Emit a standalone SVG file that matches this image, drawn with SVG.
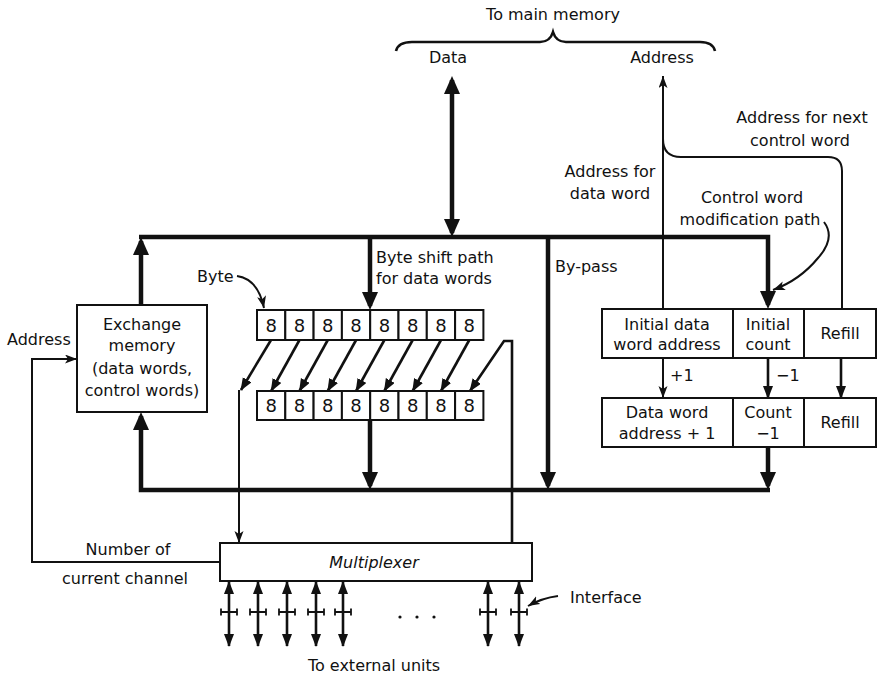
<svg xmlns="http://www.w3.org/2000/svg" width="879" height="677" viewBox="0 0 879 677">
<style>
text{font-family:"DejaVu Sans","Liberation Sans",sans-serif;font-size:16px;fill:#111}
.c{text-anchor:middle}
.d{text-anchor:middle;font-size:18px}
.box{fill:#fff;stroke:#111;stroke-width:2}
.thick{fill:none;stroke:#111;stroke-width:4.5}
.mid{fill:none;stroke:#111;stroke-width:2.6}
.thin{fill:none;stroke:#111;stroke-width:2}
</style>
<defs>
<marker id="big" markerUnits="userSpaceOnUse" markerWidth="20" markerHeight="18" refX="14" refY="8" orient="auto"><path d="M0,0 L18,8 L0,16 z" fill="#111"/></marker>
<marker id="bigs" markerUnits="userSpaceOnUse" markerWidth="20" markerHeight="18" refX="14" refY="8" orient="auto-start-reverse"><path d="M0,0 L18,8 L0,16 z" fill="#111"/></marker>
<marker id="med" markerUnits="userSpaceOnUse" markerWidth="14" markerHeight="12" refX="12" refY="5" orient="auto"><path d="M0,0 L13,5 L0,10 z" fill="#111"/></marker>
<marker id="meds" markerUnits="userSpaceOnUse" markerWidth="14" markerHeight="12" refX="12" refY="5" orient="auto-start-reverse"><path d="M0,0 L13,5 L0,10 z" fill="#111"/></marker>
<marker id="sm" markerUnits="userSpaceOnUse" markerWidth="13" markerHeight="10" refX="12" refY="4.5" orient="auto"><path d="M0,0 L12,4.5 L0,9 L3,4.5 z" fill="#111"/></marker>
</defs>

<g id="connectors">
  <path class="thick" d="M139,237 H768 V305" marker-end="url(#big)"/>
  <path class="thick" d="M141,305 V241" marker-end="url(#big)"/>
  <path class="thick" d="M452,80 V233" marker-start="url(#bigs)" marker-end="url(#bigs)"/>
  <path class="thin" d="M663,309 V76" marker-end="url(#sm)"/>
  <path class="thin" d="M842,309 V171 Q842,157 828,157 H681 Q663,157 663,139"/>
  <path class="thick" d="M370,237 V306" marker-end="url(#big)"/>
  <path class="thick" d="M548,237 V486" marker-end="url(#big)"/>
  <path class="thick" d="M770,490 H141 V416" marker-end="url(#big)"/>
  <path class="thick" d="M370,420 V486" marker-end="url(#big)"/>
  <path class="thick" d="M768,447 V486" marker-end="url(#big)"/>
  <path class="thin" d="M663,358 V398" marker-end="url(#sm)"/>
  <path class="mid" d="M768,358 V398" marker-end="url(#med)"/>
  <path class="mid" d="M841,358 V398" marker-end="url(#med)"/>
  <path class="mid" d="M271,340 L241,390" marker-end="url(#med)"/>
  <path class="mid" d="M299.5,340 L271.2,391" marker-end="url(#med)"/>
  <path class="mid" d="M327.8,340 L299.5,391" marker-end="url(#med)"/>
  <path class="mid" d="M356.1,340 L327.8,391" marker-end="url(#med)"/>
  <path class="mid" d="M384.4,340 L356.1,391" marker-end="url(#med)"/>
  <path class="mid" d="M412.7,340 L384.4,391" marker-end="url(#med)"/>
  <path class="mid" d="M441,340 L412.7,391" marker-end="url(#med)"/>
  <path class="mid" d="M469.3,340 L441,391" marker-end="url(#med)"/>
  <path class="mid" d="M512,543 V341 H504 L470,391" marker-end="url(#med)"/>
  <path class="thin" d="M239,390 V543" marker-end="url(#sm)"/>
  <path class="thin" d="M220,562 H32 V359 H77" marker-end="url(#sm)"/>
  <path class="thin" d="M237,276 Q258,279 264,308" marker-end="url(#sm)"/>
  <path class="thin" d="M824,222 Q836,238 818,258 Q800,280 773,290" marker-end="url(#sm)"/>
  <path class="thin" d="M558,596 Q542,598 528,606" marker-end="url(#sm)"/>
  <path class="mid" d="M396,51 Q398,42 412,42 H540 Q550,42 553,32 Q556,42 566,42 H700 Q713,42 715,51"/>
</g>

<g id="exchange-memory">
  <rect class="box" x="77" y="305" width="130" height="107"/>
  <text class="c" x="142" y="330">Exchange</text>
  <text class="c" x="142" y="351">memory</text>
  <text class="c" x="142" y="374">(data words,</text>
  <text class="c" x="142" y="396">control words)</text>
</g>

<g id="byte-register">
  <rect class="box" x="257" y="310" width="28.3" height="30"/>
  <rect class="box" x="285.3" y="310" width="28.3" height="30"/>
  <rect class="box" x="313.6" y="310" width="28.3" height="30"/>
  <rect class="box" x="341.9" y="310" width="28.3" height="30"/>
  <rect class="box" x="370.2" y="310" width="28.3" height="30"/>
  <rect class="box" x="398.5" y="310" width="28.3" height="30"/>
  <rect class="box" x="426.8" y="310" width="28.3" height="30"/>
  <rect class="box" x="455.1" y="310" width="28.3" height="30"/>
  <text class="d" x="271.2" y="332">8</text><text class="d" x="299.5" y="332">8</text>
  <text class="d" x="327.8" y="332">8</text><text class="d" x="356.1" y="332">8</text>
  <text class="d" x="384.4" y="332">8</text><text class="d" x="412.7" y="332">8</text>
  <text class="d" x="441" y="332">8</text><text class="d" x="469.3" y="332">8</text>
</g>

<g id="shifted-register">
  <rect class="box" x="257" y="391" width="28.3" height="29"/>
  <rect class="box" x="285.3" y="391" width="28.3" height="29"/>
  <rect class="box" x="313.6" y="391" width="28.3" height="29"/>
  <rect class="box" x="341.9" y="391" width="28.3" height="29"/>
  <rect class="box" x="370.2" y="391" width="28.3" height="29"/>
  <rect class="box" x="398.5" y="391" width="28.3" height="29"/>
  <rect class="box" x="426.8" y="391" width="28.3" height="29"/>
  <rect class="box" x="455.1" y="391" width="28.3" height="29"/>
  <text class="d" x="271.2" y="412">8</text><text class="d" x="299.5" y="412">8</text>
  <text class="d" x="327.8" y="412">8</text><text class="d" x="356.1" y="412">8</text>
  <text class="d" x="384.4" y="412">8</text><text class="d" x="412.7" y="412">8</text>
  <text class="d" x="441" y="412">8</text><text class="d" x="469.3" y="412">8</text>
</g>

<g id="control-word">
  <rect class="box" x="602" y="309" width="131" height="49"/>
  <rect class="box" x="733" y="309" width="71" height="49"/>
  <rect class="box" x="804" y="309" width="72" height="49"/>
  <text class="c" x="667" y="330">Initial data</text>
  <text class="c" x="667" y="350">word address</text>
  <text class="c" x="768" y="330">Initial</text>
  <text class="c" x="768" y="350">count</text>
  <text class="c" x="840" y="339">Refill</text>
</g>

<g id="control-word-modified">
  <rect class="box" x="602" y="398" width="131" height="49"/>
  <rect class="box" x="733" y="398" width="71" height="49"/>
  <rect class="box" x="804" y="398" width="72" height="49"/>
  <text class="c" x="667" y="418">Data word</text>
  <text class="c" x="667" y="439">address + 1</text>
  <text class="c" x="768" y="418">Count</text>
  <text class="c" x="768" y="439">−1</text>
  <text class="c" x="840" y="428">Refill</text>
</g>

<g id="multiplexer">
  <rect class="box" x="220" y="543" width="312" height="38"/>
  <text class="c" x="374" y="568" style="font-style:italic">Multiplexer</text>
</g>

<g id="interfaces">
  <path class="mid" d="M229,582 V646" marker-start="url(#meds)" marker-end="url(#meds)"/>
  <path class="mid" d="M258,582 V646" marker-start="url(#meds)" marker-end="url(#meds)"/>
  <path class="mid" d="M287,582 V646" marker-start="url(#meds)" marker-end="url(#meds)"/>
  <path class="mid" d="M316,582 V646" marker-start="url(#meds)" marker-end="url(#meds)"/>
  <path class="mid" d="M343,582 V646" marker-start="url(#meds)" marker-end="url(#meds)"/>
  <path class="mid" d="M488,582 V646" marker-start="url(#meds)" marker-end="url(#meds)"/>
  <path class="mid" d="M519,582 V646" marker-start="url(#meds)" marker-end="url(#meds)"/>
  <path fill="none" stroke="#111" stroke-width="1.8" d="M221,612 H237 M221,608.5 V615.5 M237,608.5 V615.5 M250,612 H266 M250,608.5 V615.5 M266,608.5 V615.5 M279,612 H295 M279,608.5 V615.5 M295,608.5 V615.5 M308,612 H324 M308,608.5 V615.5 M324,608.5 V615.5 M335,612 H351 M335,608.5 V615.5 M351,608.5 V615.5 M480,612 H496 M480,608.5 V615.5 M496,608.5 V615.5 M511,612 H527 M511,608.5 V615.5 M527,608.5 V615.5"/>
  <circle cx="400" cy="617" r="1.6" fill="#111"/>
  <circle cx="417" cy="617" r="1.6" fill="#111"/>
  <circle cx="434" cy="617" r="1.6" fill="#111"/>
</g>

<g id="labels">
  <text class="c" x="553" y="20">To main memory</text>
  <text class="c" x="448" y="63">Data</text>
  <text class="c" x="662" y="63">Address</text>
  <text class="c" x="802" y="123">Address for next</text>
  <text class="c" x="800" y="146">control word</text>
  <text class="c" x="610" y="177">Address for</text>
  <text class="c" x="610" y="199">data word</text>
  <text class="c" x="752" y="203">Control word</text>
  <text class="c" x="750" y="225">modification path</text>
  <text x="376" y="263">Byte shift path</text>
  <text x="376" y="284">for data words</text>
  <text x="555" y="272">By-pass</text>
  <text x="197" y="282">Byte</text>
  <text x="7" y="345">Address</text>
  <text x="670" y="381">+1</text>
  <text x="776" y="381">−1</text>
  <text class="c" x="128" y="555">Number of</text>
  <text class="c" x="125" y="584">current channel</text>
  <text x="570" y="603">Interface</text>
  <text class="c" x="374" y="671">To external units</text>
</g>
</svg>
